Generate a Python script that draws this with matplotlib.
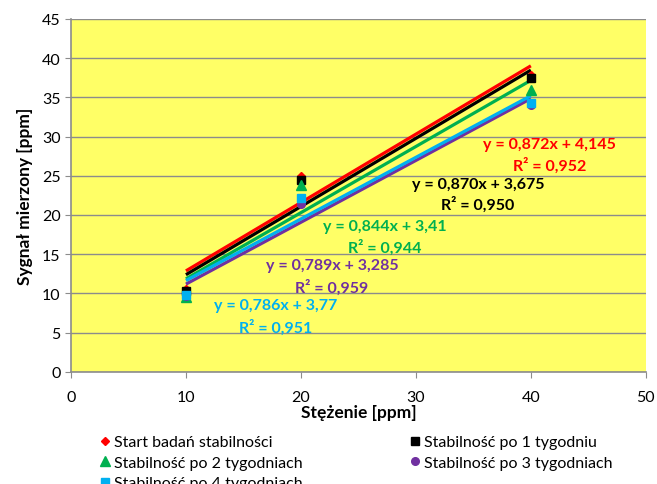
import numpy as np
import matplotlib.pyplot as plt

plt.rcParams['font.family'] = ['Lato', 'DejaVu Sans']

# stężenia wzorców [ppm]
x_conc = [10, 20, 40]

# sygnały
start_0 = [10.6, 25.0, 37.9]
week_1 = [10.3, 24.4, 37.5]
week_2 = [9.5, 23.8, 36.0]
week_3 = [9.6, 21.4, 34.0]
week_4 = [9.8, 22.2, 34.3]

series_names = ['Start badań stabilności', 'Stabilność po 1 tygodniu',
                'Stabilność po 2 tygodniach', 'Stabilność po 3 tygodniach',
                'Stabilność po 4 tygodniach']

# równania linii trendu (z etykiet)
slopes = [0.872, 0.870, 0.844, 0.789, 0.786]
intercepts = [4.145, 3.675, 3.41, 3.285, 3.77]
eq_texts = ['y = 0,872x + 4,145', 'y = 0,870x + 3,675', 'y = 0,844x + 3,41',
            'y = 0,789x + 3,285', 'y = 0,786x + 3,77']
r2_texts = ['R² = 0,952', 'R² = 0,950', 'R² = 0,944', 'R² = 0,959', 'R² = 0,951']

colors = ['#FF0000', '#000000', '#00B050', '#7030A0', '#00B0F0']
markers = ['D', 's', '^', 'o', 's']
msizes = [4.5, 6, 7.5, 5.5, 5.5]
# położenie etykiet (x, y równania, y R²) w jednostkach danych
label_pos = [(41.6, 29.0, 26.4), (35.4, 24.0, 21.4), (27.3, 18.6, 16.0),
             (22.7, 13.6, 10.9), (17.8, 8.5, 5.8)]

fig = plt.figure(figsize=(6.57, 4.85), dpi=100)
ax = fig.add_axes([0.108, 0.2315, 0.875, 0.7273])
ax.set_facecolor('#FFFF66')

all_series = [start_0, week_1, week_2, week_3, week_4]
handles = []
for i, ys in enumerate(all_series):
    xl = np.array([10, 40])
    ax.plot(xl, slopes[i] * xl + intercepts[i], color=colors[i], lw=2.3,
            zorder=2 + i * 0.01, solid_capstyle='butt')
for i, ys in enumerate(all_series):
    h, = ax.plot(x_conc, ys, linestyle='none', marker=markers[i],
                 ms=msizes[i], color=colors[i], mec=colors[i], zorder=3 + i * 0.01)
    handles.append(h)
    lx, ly_eq, ly_r2 = label_pos[i]
    ax.text(lx, ly_eq, eq_texts[i], color=colors[i], fontsize=11.5,
            fontweight='bold', ha='center', va='center', zorder=4)
    ax.text(lx, ly_r2, r2_texts[i], color=colors[i], fontsize=11.5,
            fontweight='bold', ha='center', va='center', zorder=4)

ax.set_xlim(0, 50)
ax.set_ylim(0, 45)
ax.set_xticks(range(0, 51, 10))
ax.set_yticks(range(0, 46, 5))
ax.yaxis.grid(True, color='#8C8C8C', lw=1)
ax.set_axisbelow(True)
for s in ['top', 'right']:
    ax.spines[s].set_visible(False)
for s in ['left', 'bottom']:
    ax.spines[s].set_color('#8C8C8C')
    ax.spines[s].set_linewidth(1.2)
ax.tick_params(axis='both', colors='#8C8C8C', labelcolor='black',
               labelsize=11.5, length=4)
ax.tick_params(axis='x', pad=9)
ax.set_xlabel('Stężenie [ppm]', fontsize=12.5, fontweight='bold', labelpad=0)
ax.set_ylabel('Sygnał mierzony [ppm]', fontsize=12.5, fontweight='bold', labelpad=6)

order = [0, 2, 4, 1, 3]
fig.legend([handles[k] for k in order], [series_names[k] for k in order],
           loc='upper left', bbox_to_anchor=(0.152, 0.101), ncol=2, frameon=False,
           fontsize=11.5, handlelength=0.6, handletextpad=0.3,
           columnspacing=6.7, labelspacing=0.4, borderaxespad=0, borderpad=0)

fig.savefig('out.png', dpi=100)
